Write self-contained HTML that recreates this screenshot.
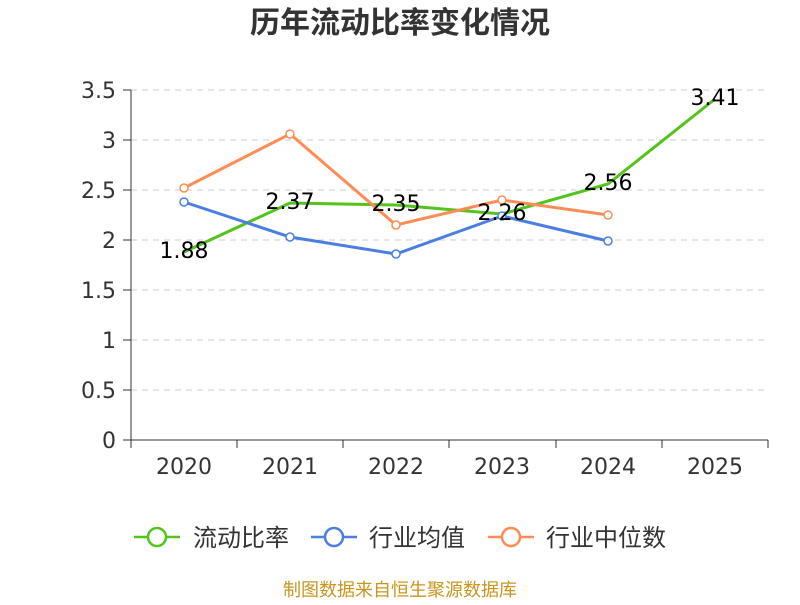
<!DOCTYPE html>
<html><head><meta charset="utf-8"><style>body{margin:0;background:#fff}</style></head><body>
<svg width="800" height="600" xmlns="http://www.w3.org/2000/svg" font-family="DejaVu Sans, Noto Sans CJK SC, sans-serif">
<text x="400" y="33" text-anchor="middle" font-size="30" font-weight="bold" fill="#333" font-family="Noto Sans CJK SC, sans-serif">历年流动比率变化情况</text>
<g stroke="#ccc" stroke-dasharray="6,5" stroke-width="1">
<line x1="131" x2="768" y1="90" y2="90"/><line x1="131" x2="768" y1="140" y2="140"/><line x1="131" x2="768" y1="190" y2="190"/><line x1="131" x2="768" y1="240" y2="240"/><line x1="131" x2="768" y1="290" y2="290"/><line x1="131" x2="768" y1="340" y2="340"/><line x1="131" x2="768" y1="390" y2="390"/>
</g>
<g stroke="#333" stroke-width="1">
<line x1="131" x2="131" y1="90" y2="440"/><line x1="131" x2="768" y1="440" y2="440"/>
<line x1="123" x2="131" y1="90" y2="90"/><line x1="123" x2="131" y1="140" y2="140"/><line x1="123" x2="131" y1="190" y2="190"/><line x1="123" x2="131" y1="240" y2="240"/><line x1="123" x2="131" y1="290" y2="290"/><line x1="123" x2="131" y1="340" y2="340"/><line x1="123" x2="131" y1="390" y2="390"/><line x1="123" x2="131" y1="440" y2="440"/>
<line x1="131" x2="131" y1="440" y2="448"/><line x1="237" x2="237" y1="440" y2="448"/><line x1="343" x2="343" y1="440" y2="448"/><line x1="449" x2="449" y1="440" y2="448"/><line x1="556" x2="556" y1="440" y2="448"/><line x1="662" x2="662" y1="440" y2="448"/><line x1="768" x2="768" y1="440" y2="448"/>
</g>
<g font-size="22" fill="#333" text-anchor="end">
<text x="116" y="98">3.5</text><text x="116" y="148">3</text><text x="116" y="198">2.5</text><text x="116" y="248">2</text><text x="116" y="298">1.5</text><text x="116" y="348">1</text><text x="116" y="398">0.5</text><text x="116" y="448">0</text>
</g>
<g font-size="22" fill="#333" text-anchor="middle">
<text x="184" y="474">2020</text><text x="290" y="474">2021</text><text x="396" y="474">2022</text><text x="502" y="474">2023</text><text x="608" y="474">2024</text><text x="715" y="474">2025</text>
</g>
<polyline fill="none" stroke="#52c41a" stroke-width="3" points="184,252 290,203 396,205 502,214 608,184 715,99"/>
<polyline fill="none" stroke="#4a7fe0" stroke-width="3" points="184,202 290,237 396,254 502,216 608,241"/>
<polyline fill="none" stroke="#ff8c55" stroke-width="3" points="184,188 290,134 396,225 502,200 608,215"/>
<g fill="#fff" stroke="#4a7fe0" stroke-width="1.5"><circle cx="184" cy="202" r="4"/><circle cx="290" cy="237" r="4"/><circle cx="396" cy="254" r="4"/><circle cx="502" cy="216" r="4"/><circle cx="608" cy="241" r="4"/></g>
<g fill="#fff" stroke="#ff8c55" stroke-width="1.5"><circle cx="184" cy="188" r="4"/><circle cx="290" cy="134" r="4"/><circle cx="396" cy="225" r="4"/><circle cx="502" cy="200" r="4"/><circle cx="608" cy="215" r="4"/></g>
<g font-size="22" fill="#000" text-anchor="middle">
<text x="184" y="258">1.88</text><text x="290" y="209">2.37</text><text x="396" y="211">2.35</text><text x="502" y="220">2.26</text><text x="608" y="190">2.56</text><text x="715" y="105">3.41</text>
</g>
<g stroke-width="2.5" fill="#fff">
<line x1="134" x2="180" y1="537" y2="537" stroke="#52c41a"/><circle cx="157" cy="537" r="9" stroke="#52c41a"/>
<line x1="311" x2="357" y1="537" y2="537" stroke="#4a7fe0"/><circle cx="334" cy="537" r="9" stroke="#4a7fe0"/>
<line x1="488" x2="534" y1="537" y2="537" stroke="#ff8c55"/><circle cx="511" cy="537" r="9" stroke="#ff8c55"/>
</g>
<g font-size="24" fill="#333" font-family="Noto Sans CJK SC, sans-serif">
<text x="193" y="546">流动比率</text><text x="369" y="546">行业均值</text><text x="546" y="546">行业中位数</text>
</g>
<text x="400" y="596" text-anchor="middle" font-size="18" fill="#c8961e" font-family="Noto Sans CJK SC, sans-serif">制图数据来自恒生聚源数据库</text>
</svg>
</body></html>
